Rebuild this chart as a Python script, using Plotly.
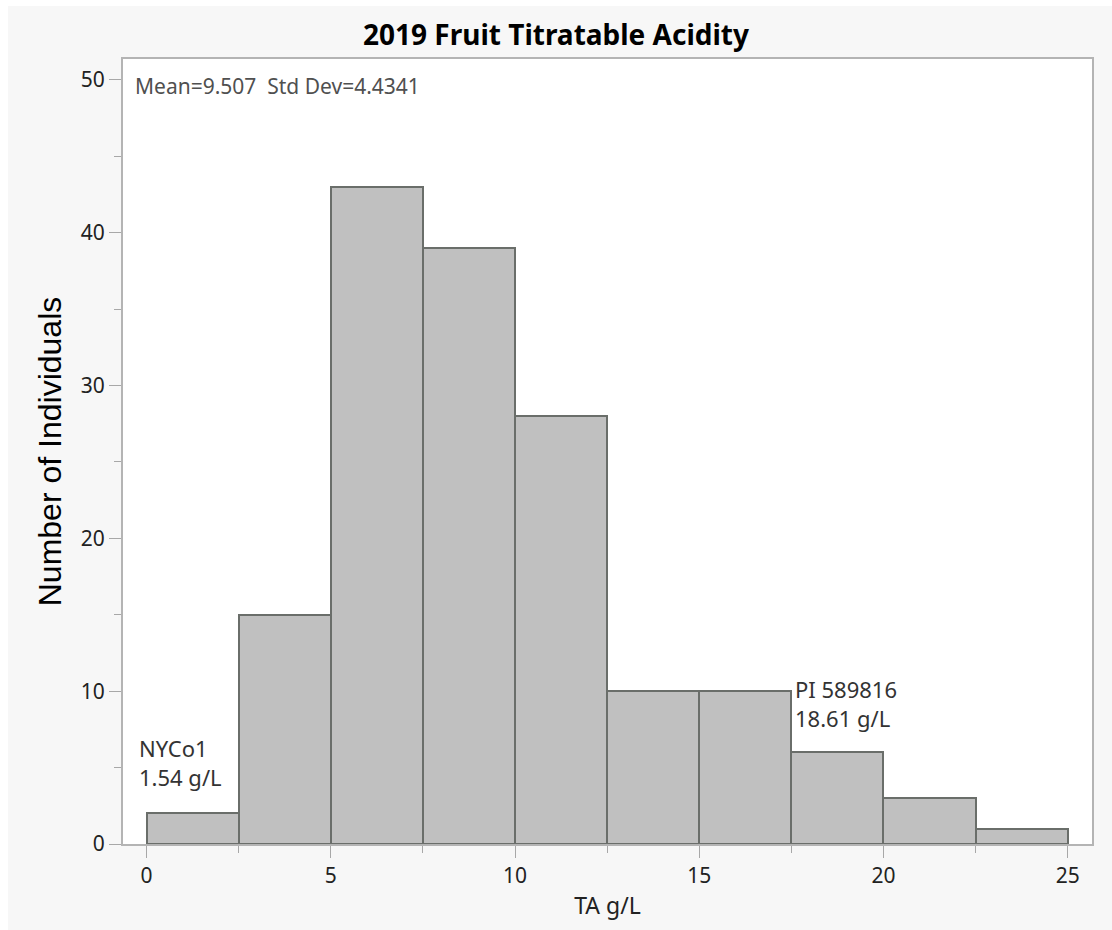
import plotly.graph_objects as go

# Data
bin_edges = [0, 2.5, 5, 7.5, 10, 12.5, 15, 17.5, 20, 22.5, 25]
counts = [2, 15, 43, 39, 28, 10, 10, 6, 3, 1]
title_text = "2019 Fruit Titratable Acidity"
x_title = "TA g/L"
y_title = "Number of Individuals"
stats_text = "Mean=9.507  Std Dev=4.4341"
low_label = "NYCo1<br>1.54 g/L"
high_label = "PI 589816<br>18.61 g/L"

centers = [(a + b) / 2 for a, b in zip(bin_edges[:-1], bin_edges[1:])]
widths = [b - a for a, b in zip(bin_edges[:-1], bin_edges[1:])]

fig = go.Figure()
fig.add_trace(go.Bar(
    x=centers, y=counts, width=widths,
    marker=dict(color="#c0c0c0", line=dict(color="#6a6e6a", width=2)),
    hoverinfo="x+y",
))

tickfont = dict(family="Noto Sans", size=21, color="#222222")
fig.update_layout(
    width=1112, height=930,
    paper_bgcolor="#f7f7f7",
    plot_bgcolor="#ffffff",
    margin=dict(l=123, r=20, t=59, b=86),
    showlegend=False,
    bargap=0,
    title=dict(text="<b>" + title_text + "</b>", x=0.5, xanchor="center",
               y=1 - 35 / 930, yanchor="middle",
               font=dict(family="Noto Sans", size=28, color="#000000")),
    shapes=[
        dict(type="rect", xref="paper", yref="paper", layer="below",
             x0=-123 / 969, x1=-115 / 969, y0=-0.2, y1=1.2,
             fillcolor="#ffffff", line=dict(width=0)),
        dict(type="rect", xref="paper", yref="paper", layer="below",
             x0=-0.2, x1=1.1, y0=1 + 53 / 785, y1=1 + 60 / 785,
             fillcolor="#ffffff", line=dict(width=0)),
    ],
    annotations=[
        dict(text=stats_text, xref="paper", yref="paper", x=10 / 969, y=1 - 11 / 785,
             xanchor="left", yanchor="top", showarrow=False,
             font=dict(family="Noto Sans", size=21, color="#505050")),
        dict(text=low_label, xref="x", yref="y", x=-0.25, y=3.3,
             xanchor="left", yanchor="bottom", showarrow=False, align="left",
             font=dict(family="Noto Sans", size=22, color="#333333")),
        dict(text=high_label, xref="x", yref="y", x=17.55, y=7.15,
             xanchor="left", yanchor="bottom", showarrow=False, align="left",
             font=dict(family="Noto Sans", size=22, color="#333333")),
    ],
)
fig.update_xaxes(
    range=[-0.64, 25.66], showgrid=False, zeroline=False,
    showline=True, linecolor="#b4b4b4", linewidth=2, mirror=True,
    ticks="outside", ticklen=12, tickcolor="#a8a8a8", tickwidth=1,
    tick0=0, dtick=5, tickfont=tickfont,
    minor=dict(ticks="outside", ticklen=7, tickcolor="#a8a8a8", dtick=2.5, tick0=0),
    title=dict(text=x_title, font=dict(family="Noto Sans", size=23, color="#222222"), standoff=10),
)
fig.update_yaxes(
    range=[0, 51.37], showgrid=False, zeroline=False,
    showline=True, linecolor="#b4b4b4", linewidth=2, mirror=True,
    ticks="outside", ticklen=12, tickcolor="#a8a8a8", tickwidth=1,
    tick0=0, dtick=10, tickfont=tickfont,
    minor=dict(ticks="outside", ticklen=7, tickcolor="#a8a8a8", dtick=5, tick0=0),
    title=dict(text=y_title, font=dict(family="Liberation Sans", size=32, color="#000000"), standoff=10),
)

fig.write_html("out.html")
